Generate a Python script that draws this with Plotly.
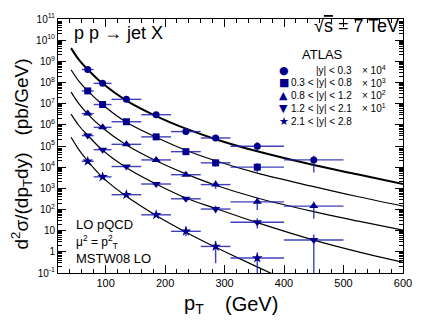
import numpy as np
import plotly.graph_objects as go

# ---- data ----
pt = [70, 95, 135, 185, 235, 285, 355, 450]
pt_halfwidth = [10, 15, 25, 25, 25, 25, 45, 50]

circ_y = [4.1e8, 9.1e7, 1.6e7, 3.0e6, 4.8e5, 2.4e5, 9.7e4, 2.2e4]
circ_up = [0.03, 0.03, 0.03, 0.04, 0.05, 0.07, 0.2, 0.2]
circ_dn = [0.03, 0.03, 0.03, 0.04, 0.05, 0.07, 0.22, 0.59]

sq_y = [4.0e7, 9.1e6, 1.4e6, 2.7e5, 5.4e4, 1.6e4, 1.0e4]
sq_up = [0.03, 0.03, 0.03, 0.04, 0.05, 0.16, 0.2]
sq_dn = [0.03, 0.03, 0.03, 0.04, 0.05, 0.18, 0.23]

tri_y = [3.4e6, 7.6e5, 1.2e5, 2.2e4, 4.4e3, 1.5e3, 2.3e2, 1.45e2]
tri_up = [0.03, 0.03, 0.03, 0.04, 0.06, 0.19, 0.19, 0.2]
tri_dn = [0.03, 0.03, 0.03, 0.04, 0.06, 0.2, 0.38, 0.6]

tdn_y = [3.1e5, 6.7e4, 1.07e4, 1.6e3, 3.2e2, 1.05e2, 25, 3.6]
tdn_up = [0.03, 0.03, 0.03, 0.05, 0.08, 0.16, 0.19, 0.26]
tdn_dn = [0.03, 0.03, 0.03, 0.05, 0.08, 0.2, 0.3, 2.0]

star_y = [1.9e4, 3.5e3, 5.0e2, 56, 9.3, 1.8, 0.51]
star_up = [0.03, 0.04, 0.05, 0.08, 0.23, 0.26, 0.26]
star_dn = [0.03, 0.04, 0.05, 0.08, 0.23, 0.79, 1.5]

curve_x = [42, 55, 70, 95, 135, 185, 235, 285, 355, 450, 525, 600]
curve_circ = [4.2e9, 1.2e9, 4.1e8, 8.9e7, 1.4e7, 2.6e6, 6.6e5, 2.1e5, 5.6e4, 1.26e4, 4.5e3, 1.6e3]
curve_sq = [4.0e8, 1.17e8, 4.0e7, 8.9e6, 1.32e6, 2.6e5, 6.3e4, 2.0e4, 5.2e3, 1.2e3, 4.0e2, 1.45e2]
curve_tri = [3.5e7, 1.0e7, 3.2e6, 7.1e5, 1.12e5, 2.0e4, 4.8e3, 1.4e3, 3.5e2, 79, 28, 10.5]
curve_tdn = [3.2e6, 9.3e5, 3.2e5, 6.3e4, 9.5e3, 1.6e3, 3.5e2, 1.12e2, 24, 3.6, 1.0, 0.32]
curve_star_x = [42, 55, 70, 95, 135, 185, 235, 285, 355, 400]
curve_star = [2.6e5, 6.8e4, 1.95e4, 3.3e3, 4.2e2, 52, 8.5, 1.66, 0.195, 0.05]

legend_syms = ["●", "■", "▲", "▼", "★"]
legend_ranges = ["|y| < 0.3", "0.3 < |y| < 0.8", "0.8 < |y| < 1.2", "1.2 < |y| < 2.1", "2.1 < |y| < 2.8"]
legend_scales = ["× 10<sup>4</sup>", "× 10<sup>3</sup>", "× 10<sup>2</sup>", "× 10<sup>1</sup>", ""]

ytick_vals = [10.0 ** k for k in range(-1, 12)]
ytick_text = ["10<sup>-1</sup>", "1", "10"] + ["10<sup>%d</sup>" % k for k in range(2, 12)]

FONT = "Liberation Sans, Arial, Helvetica, sans-serif"
MCOL = "#00008c"
ECOL = "rgba(30,30,180,0.85)"

fig = go.Figure()

# curves
for cy, w in [(curve_circ, 2.0), (curve_sq, 1.2), (curve_tri, 1.2), (curve_tdn, 1.2)]:
    fig.add_trace(go.Scatter(x=curve_x, y=cy, mode="lines",
                             line=dict(color="black", width=w, shape="spline", smoothing=1.0),
                             hoverinfo="skip", showlegend=False, cliponaxis=True))
fig.add_trace(go.Scatter(x=curve_star_x, y=curve_star, mode="lines",
                         line=dict(color="black", width=1.2, shape="spline", smoothing=1.0),
                         hoverinfo="skip", showlegend=False))

series = [
    (circ_y, circ_up, circ_dn, "circle", 7),
    (sq_y, sq_up, sq_dn, "square", 7),
    (tri_y, tri_up, tri_dn, "triangle-up", 8),
    (tdn_y, tdn_up, tdn_dn, "triangle-down", 8),
    (star_y, star_up, star_dn, "star", 8),
]
for ys, up, dn, sym, sz in series:
    n = len(ys)
    yv = np.array(ys)
    eplus = yv * (10 ** np.array(up) - 1)
    eminus = yv * (1 - 10 ** (-np.array(dn)))
    fig.add_trace(go.Scatter(
        x=pt[:n], y=ys, mode="markers",
        marker=dict(symbol=sym, size=sz, color=MCOL, line=dict(width=0)),
        error_x=dict(type="data", array=pt_halfwidth[:n], color=ECOL, thickness=1.4, width=0),
        error_y=dict(type="data", array=eplus, arrayminus=eminus, symmetric=False,
                     color=ECOL, thickness=1.4, width=0),
        showlegend=False, cliponaxis=True))

minor_y = [m * 10.0 ** k for k in range(-1, 11) for m in range(2, 10)]

fig.update_layout(
    width=424, height=325,
    margin=dict(l=58, r=12, t=14, b=52),
    paper_bgcolor="white", plot_bgcolor="white",
    font=dict(family=FONT, color="black"),
    xaxis=dict(range=[20, 600], showline=True, linecolor="black", linewidth=1, mirror="ticks",
               ticks="inside", ticklen=8, tickcolor="black", tickwidth=1,
               tickvals=[100, 200, 300, 400, 500, 600], ticktext=["100", "200", "300", "400", "500", "600"],
               minor=dict(ticks="inside", ticklen=4, tickcolor="black", dtick=20, tick0=0, showgrid=False),
               showgrid=False, zeroline=False, tickfont=dict(size=11, family=FONT)),
    yaxis=dict(type="log", range=[-1, 11], showline=True, linecolor="black", linewidth=1, mirror="ticks",
               ticks="inside", ticklen=8, tickcolor="black", tickwidth=1,
               tickvals=ytick_vals, ticktext=ytick_text,
               minor=dict(ticks="inside", ticklen=4, tickcolor="black", tickmode="array",
                          tickvals=minor_y, showgrid=False),
               showgrid=False, zeroline=False, tickfont=dict(size=10, family=FONT)),
)

ann = []
def add(text, x, y, size, xanchor="center", yanchor="middle", angle=0):
    ann.append(dict(text=text, x=x, y=y, xref="paper", yref="paper", showarrow=False,
                    xanchor=xanchor, yanchor=yanchor, textangle=angle,
                    font=dict(size=size, family=FONT, color="black")))

add("p p → jet X", 0.042, 0.946, 18, xanchor="left")
add("√<span style='text-decoration:overline'>s</span> = 7 TeV", 0.994, 0.973, 18, xanchor="right")
add("ATLAS", 0.768, 0.861, 13)
ys_leg = [0.799, 0.749, 0.700, 0.649, 0.598]
for s, r, sc, yy in zip(legend_syms, legend_ranges, legend_scales, ys_leg):
    ann.append(dict(text=s, x=0.655, y=yy, xref="paper", yref="paper", showarrow=False,
                    xanchor="center", yanchor="middle", font=dict(size=11, color=MCOL, family="DejaVu Sans")))
    add(r, 0.859, yy, 10, xanchor="right")
    if sc:
        add(sc, 0.874, yy, 10, xanchor="left")
add("LO pQCD", 0.045, 0.190, 13, xanchor="left")
add("μ<sup>2</sup> = p<sup>2</sup><sub>T</sub>", 0.045, 0.124, 12, xanchor="left")
add("MSTW08 LO", 0.045, 0.056, 13, xanchor="left")
add("(pb/GeV)", -0.107, 0.691, 19, angle=-90)
add("d<sup>2</sup>σ/(dp<sub>T</sub>dy)", -0.107, 0.282, 19, angle=-90)
add("p<sub>T</sub>", 0.395, -0.124, 20)
add("(GeV)", 0.562, -0.124, 20)
fig.update_layout(annotations=ann)

fig.write_html("out.html")
